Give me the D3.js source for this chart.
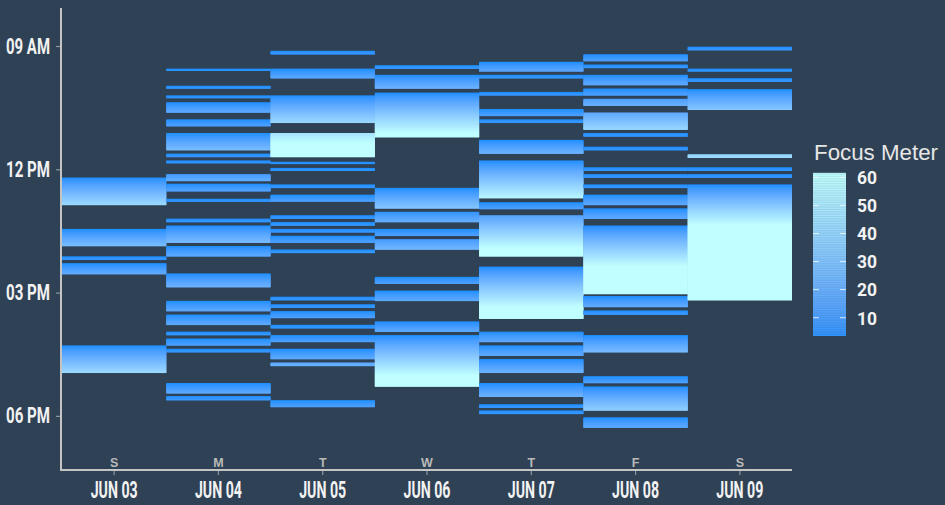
<!DOCTYPE html>
<html>
<head>
<meta charset="utf-8">
<script src="https://cdn.jsdelivr.net/npm/d3@7"></script>
<style>
body { margin: 0; background: #2f4155; }
svg { display: block; }
</style>
</head>
<body>
<svg width="945" height="505"></svg>
<script>
let width = 945, height = 505, bg = '#2f4155';

// days along the x axis
let days = ['JUN 03', 'JUN 04', 'JUN 05', 'JUN 06', 'JUN 07', 'JUN 08', 'JUN 09'];
let weekdays = ['S', 'M', 'T', 'W', 'T', 'F', 'S'];

// y axis ticks (minutes after midnight) and their labels
let timeTicks = [540, 720, 900, 1080];
let timeLabels = ['09 AM', '12 PM', '03 PM', '06 PM'];

// legend ticks
let meterTicks = [10, 20, 30, 40, 50, 60];

// focus sessions per day: [start, minutes, meter at first minute (default 1)]
let jun03 = [['12:12', 40], ['13:27', 25], ['14:07', 5], ['14:17', 16], ['16:17', 40]];
let jun04 = [['09:33', 3], ['09:58', 4], ['10:12', 4], ['10:22', 15], ['10:47', 10], ['11:07', 25],
	['11:37', 5], ['11:47', 4], ['12:07', 10, 8], ['12:21', 11], ['12:43', 4], ['13:12', 5],
	['13:22', 25], ['13:52', 15], ['14:32', 20], ['15:12', 15], ['15:32', 15], ['15:57', 5],
	['16:07', 10], ['16:22', 5], ['17:12', 15], ['17:31', 6]];
let jun05 = [['09:07', 5], ['09:33', 14], ['10:12', 40], ['11:07', 35, 46], ['11:49', 3], ['11:58', 4],
	['12:22', 5], ['12:37', 10], ['13:07', 5], ['13:17', 5], ['13:27', 5], ['13:37', 10], ['13:57', 5],
	['15:06', 5], ['15:17', 5], ['15:27', 10], ['15:47', 5], ['16:02', 10], ['16:22', 15],
	['16:42', 5, 15], ['17:37', 10]];
let jun06 = [['09:28', 5], ['09:42', 20], ['10:08', 65], ['12:27', 30], ['13:02', 15, 4], ['13:27', 10],
	['13:42', 15, 8], ['14:37', 10], ['14:57', 15], ['15:42', 15], ['16:02', 75]];
let jun07 = [['09:23', 14], ['09:42', 5], ['10:07', 5], ['10:32', 10], ['10:47', 5], ['11:17', 20],
	['11:47', 55], ['12:48', 10], ['13:07', 60, 12], ['14:22', 76], ['15:57', 15], ['16:17', 15],
	['16:37', 20], ['17:12', 20], ['17:43', 5], ['17:52', 5]];
let jun08 = [['09:12', 10], ['09:27', 5], ['09:42', 15], ['10:02', 10], ['10:17', 10, 10], ['10:37', 25, 15],
	['11:07', 5], ['11:27', 5], ['11:57', 5], ['12:07', 5], ['12:22', 5], ['12:37', 15], ['12:57', 15],
	['13:22', 100], ['15:05', 16], ['15:26', 6], ['16:02', 25], ['17:02', 10], ['17:17', 35], ['18:02', 15]];
let jun09 = [['09:01', 5], ['09:33', 4], ['09:47', 5], ['10:03', 30], ['11:38', 5, 38], ['11:57', 5],
	['12:07', 5], ['12:22', 169]];

let sessions = [jun03, jun04, jun05, jun06, jun07, jun08, jun09];

var svg = d3.select('svg');

svg.append('rect')
	.attr('width', width)
	.attr('height', height)
	.attr('fill', bg);

let x = d3.scaleBand().domain(days).range([62, 792]).padding(0);
let y = d3.scaleLinear().domain([484.5, 1159]).range([8, 470]);
let color = d3.scaleLinear().domain([1, 60]).range(['#1e90ff', '#c0ffff'])
	.interpolate(d3.interpolateLab).clamp(true);

function toMinutes(s) {
	let p = s.split(':');
	return +p[0] * 60 + +p[1];
}

// one tile per minute; all but the last tile of a session reach a bit under the next one
let tiles = [];
sessions.forEach(function(list, i) {
	list.forEach(function(s) {
		let t0 = toMinutes(s[0]), m0 = s[2] || 1;
		for (let k = 0; k < s[1]; k++) {
			tiles.push({ day: days[i], t: t0 + k, meter: Math.min(m0 + k, 60), last: k == s[1] - 1 });
		}
	});
});

svg.append('g')
	.selectAll('rect')
	.data(tiles)
	.join('rect')
	.attr('x', function(d) { return x(d.day); })
	.attr('y', function(d) { return y(d.t); })
	.attr('width', x.bandwidth())
	.attr('height', function(d) { return y(d.t + 1) - y(d.t) + (d.last ? 0 : 1); })
	.attr('fill', function(d) { return color(d.meter); });

// axes
let axisFont = 'Roboto, "DejaVu Sans", sans-serif';

let yAxis = svg.append('g')
	.attr('transform', 'translate(61,0)')
	.call(d3.axisLeft(y).tickValues(timeTicks)
		.tickFormat(function(d, i) { return timeLabels[i]; })
		.tickSize(5).tickPadding(6));

let xAxis = svg.append('g')
	.attr('transform', 'translate(0,470)')
	.call(d3.axisBottom(x).tickSize(5).tickPadding(6.5));

[yAxis, xAxis].forEach(function(g) {
	g.select('.domain').remove();
	g.selectAll('line').attr('stroke', '#8f979f').attr('stroke-width', 1.2);
	g.selectAll('text')
		.attr('fill', '#f2f2f2')
		.attr('lengthAdjust', 'spacingAndGlyphs')
		.style('font-family', axisFont)
		.style('font-weight', 'bold');
});
yAxis.selectAll('text').attr('textLength', 44).style('font-size', '22px');
xAxis.selectAll('text').attr('textLength', 47).style('font-size', '23.5px');

svg.append('line')
	.attr('x1', 61).attr('y1', 8).attr('x2', 61).attr('y2', 471)
	.attr('stroke', '#c4c4c4').attr('stroke-width', 2);
svg.append('line')
	.attr('x1', 60).attr('y1', 470).attr('x2', 792).attr('y2', 470)
	.attr('stroke', '#c4c4c4').attr('stroke-width', 2);

// weekday letters above the x axis
svg.append('g')
	.selectAll('text')
	.data(weekdays)
	.join('text')
	.attr('x', function(d, i) { return x(days[i]) + x.bandwidth() / 2; })
	.attr('y', 466.5)
	.attr('text-anchor', 'middle')
	.attr('fill', '#b9b9b9')
	.style('font-family', 'Liberation Sans, Arial, sans-serif')
	.style('font-weight', 'bold')
	.style('font-size', '12.5px')
	.text(function(d) { return d; });

// legend
let ly = d3.scaleLinear().domain([10, 60]).range([317.7, 177.3]);
let legend = svg.append('g');

legend.append('text')
	.attr('x', 814)
	.attr('y', 159.5)
	.attr('fill', '#e6e6e6')
	.attr('textLength', 124)
	.attr('lengthAdjust', 'spacingAndGlyphs')
	.style('font-family', 'Liberation Sans, Arial, sans-serif')
	.style('font-size', '21.5px')
	.text('Focus Meter');

let steps = d3.range(ly.invert(335.7), ly.invert(173.3), 0.25);
legend.selectAll('rect.bin')
	.data(steps)
	.join('rect')
	.attr('class', 'bin')
	.attr('x', 813)
	.attr('width', 33)
	.attr('y', function(d) { return ly(d + 0.25); })
	.attr('height', function(d) { return ly(d) - ly(d + 0.25) + 0.3; })
	.attr('fill', function(d) { return color(d); });

legend.selectAll('line.tl')
	.data(meterTicks)
	.join('line')
	.attr('class', 'tl')
	.attr('x1', 813).attr('x2', 819)
	.attr('y1', function(d) { return ly(d); })
	.attr('y2', function(d) { return ly(d); })
	.attr('stroke', '#ffffff').attr('stroke-opacity', 0.75).attr('stroke-width', 1);
legend.selectAll('line.tr')
	.data(meterTicks)
	.join('line')
	.attr('class', 'tr')
	.attr('x1', 840).attr('x2', 846)
	.attr('y1', function(d) { return ly(d); })
	.attr('y2', function(d) { return ly(d); })
	.attr('stroke', '#ffffff').attr('stroke-opacity', 0.75).attr('stroke-width', 1);

legend.selectAll('text.lab')
	.data(meterTicks)
	.join('text')
	.attr('class', 'lab')
	.attr('x', 857)
	.attr('y', function(d) { return ly(d); })
	.attr('dy', '0.36em')
	.attr('fill', '#f2f2f2')
	.attr('textLength', 20)
	.attr('lengthAdjust', 'spacingAndGlyphs')
	.style('font-family', axisFont)
	.style('font-weight', 'bold')
	.style('font-size', '19px')
	.text(function(d) { return d; });
</script>
</body>
</html>
